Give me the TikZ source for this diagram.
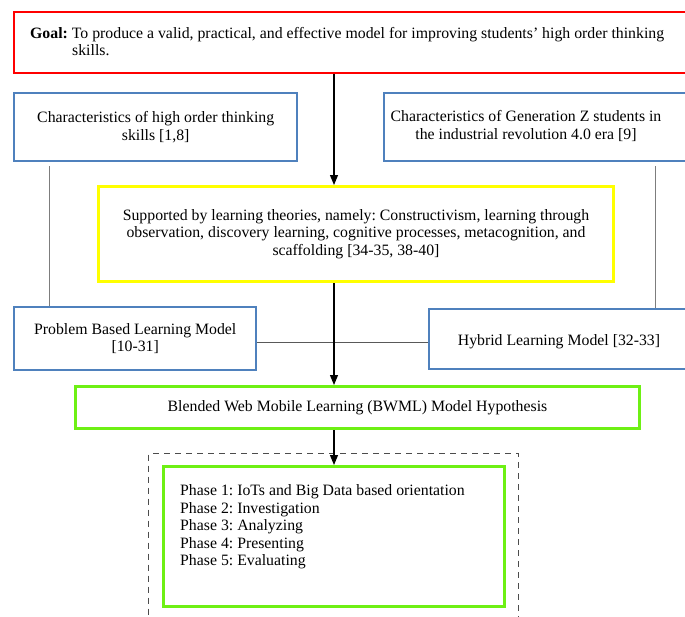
\documentclass[tikz,border=0pt]{standalone}
\usepackage{fontspec}
\setmainfont{Liberation Serif}
\usetikzlibrary{arrows.meta}
\definecolor{boxred}{RGB}{255,0,0}
\definecolor{boxblue}{RGB}{79,129,189}
\definecolor{boxyellow}{RGB}{255,255,0}
\definecolor{boxgreen}{RGB}{110,240,20}
\definecolor{linegray}{RGB}{125,125,125}
\tikzset{
  frame/.style={inner sep=0pt, anchor=north west},
  bluebox/.style={frame, draw=boxblue, line width=2.4pt, align=center},
  greenbox/.style={frame, draw=boxgreen, line width=3pt, align=center},
  txt/.style={inner sep=0pt},
  arr/.style={-{Triangle[length=10pt,width=8pt]}, line width=1.1pt, black},
  grayline/.style={draw=linegray, line width=1pt},
}
\begin{document}
\frenchspacing
\begin{tikzpicture}[x=1pt,y=-1pt,font=\fontsize{15.8}{17.5}\selectfont\frenchspacing]
\useasboundingbox (0,0) rectangle (685,616);
% goal
\node[frame, draw=boxred, line width=2.4pt, minimum width=677pt, minimum height=61pt] (goal) at (13,11) {};
\node[txt, anchor=north west, align=left] (goaltxt) at (30,27)
  {\textbf{Goal:} To produce a valid, practical, and effective model for improving students' high order thinking\\\hspace*{42pt}skills.};
% characteristics
\node[bluebox, minimum width=283pt, minimum height=68pt] (hots) at (13,92)
  {Characteristics of high order thinking\\skills [1,8]};
\node[bluebox, minimum width=310pt, minimum height=68pt] (genz) at (383,92) {};
\node[txt, align=center] (genztxt) at (526,126)
  {Characteristics of Generation Z students in\\the industrial revolution 4.0 era [9]};
% theories
\node[frame, draw=boxyellow, line width=3pt, minimum width=515pt, minimum height=95pt, align=center] (theory) at (97,185)
  {Supported by learning theories, namely: Constructivism, learning through\\observation, discovery learning, cognitive processes, metacognition, and\\scaffolding [34-35, 38-40]};
% models
\node[bluebox, minimum width=242pt, minimum height=63pt] (pbl) at (13,306)
  {Problem Based Learning Model\\{[10-31]}};
\node[bluebox, minimum width=262pt, minimum height=60pt] (hybrid) at (428,308) {};
\node[txt] (hybridtxt) at (559,342) {Hybrid Learning Model [32-33]};
% hypothesis
\node[greenbox, minimum width=564pt, minimum height=42pt] (bwml) at (74,385)
  {Blended Web Mobile Learning (BWML) Model Hypothesis};
% phases
\node[frame, draw=black!70, line width=1.4pt, dash pattern=on 6pt off 5pt, minimum width=370pt, minimum height=172pt] (dframe) at (148,453) {};
\node[greenbox, minimum width=341pt, minimum height=140pt] (phases) at (162,465) {};
\node[txt, anchor=north west, align=left] (phasetxt) at (180,484.5)
  {Phase 1: IoTs and Big Data based orientation\\Phase 2: Investigation\\Phase 3: Analyzing\\Phase 4: Presenting\\Phase 5: Evaluating};
% connectors
\coordinate (ax) at (334,0);
\coordinate (lx) at (49,0);
\coordinate (rx) at (655,0);
\coordinate (hy) at (0,342);
\draw[grayline, shorten <=4pt] (hots.south -| lx) -- (pbl.north -| lx);
\draw[grayline, shorten <=4pt] (genz.south -| rx) -- (hybrid.north -| rx);
\draw[grayline, draw=black!65] (pbl.east |- hy) -- (hybrid.west |- hy);
\draw[arr] (goal.south -| ax) -- (theory.north -| ax);
\draw[arr] (theory.south -| ax) -- (bwml.north -| ax);
\draw[arr] (bwml.south -| ax) -- (phases.north -| ax);
\end{tikzpicture}
\end{document}
